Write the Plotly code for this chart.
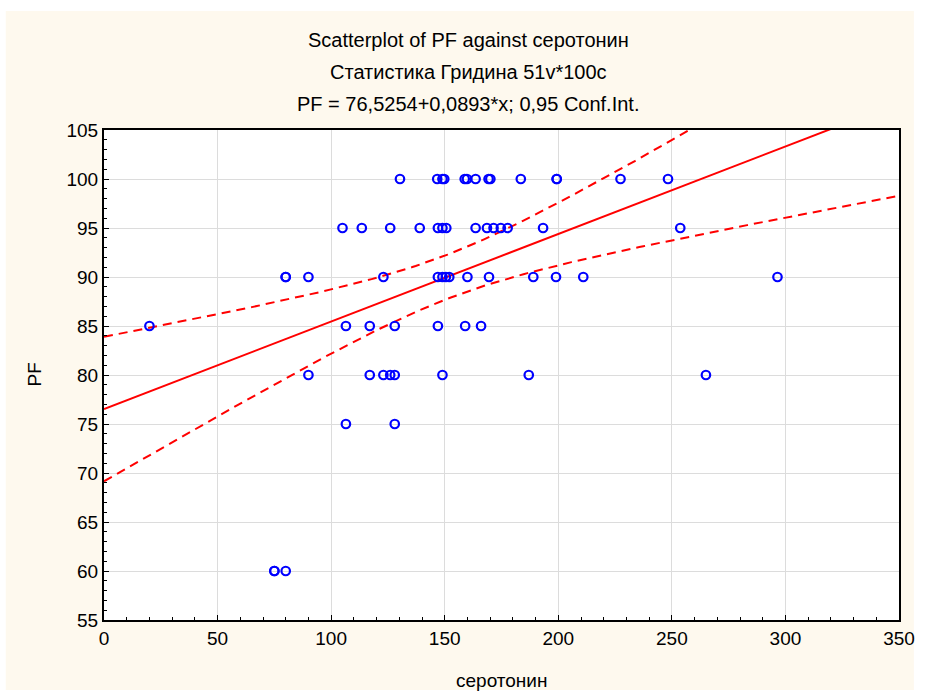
import numpy as np
import plotly.graph_objects as go

# ---- data ----
serotonin = [75, 75, 80,
             106.5, 128,
             90, 117, 123, 126, 128, 149, 187, 265,
             20, 106.5, 117, 128, 147, 159, 166,
             80, 80, 90, 123, 147, 149, 150.5, 152, 160, 169.5, 189, 199, 211, 296.5,
             105, 113.5, 126, 139, 147, 149, 150.7, 163.6, 168.6, 171.5, 174.7, 177.7, 193.3, 253.7,
             130.3, 146.7, 149, 149.8, 158.8, 159.8, 163.6, 169.3, 170.1, 183.5, 199.3, 199.3, 227.4, 248.3]
pf = [60, 60, 60,
      75, 75,
      80, 80, 80, 80, 80, 80, 80, 80,
      85, 85, 85, 85, 85, 85, 85,
      90, 90, 90, 90, 90, 90, 90, 90, 90, 90, 90, 90, 90, 90,
      95, 95, 95, 95, 95, 95, 95, 95, 95, 95, 95, 95, 95, 95,
      100, 100, 100, 100, 100, 100, 100, 100, 100, 100, 100, 100, 100, 100]
intercept = 76.5254
slope = 0.0893
conf_level = 0.95

x_ticks = [0, 50, 100, 150, 200, 250, 300, 350]
y_ticks = [55, 60, 65, 70, 75, 80, 85, 90, 95, 100, 105]

title_lines = ["Scatterplot of PF against серотонин",
               "Статистика Гридина 51v*100c",
               "PF = 76,5254+0,0893*x; 0,95 Conf.Int."]

# ---- regression line and confidence band ----
xs = np.array(serotonin, dtype=float)
ys = np.array(pf, dtype=float)
n = len(xs)
resid = ys - (intercept + slope * xs)
s2 = np.sum(resid ** 2) / (n - 2)
xbar = xs.mean()
sxx = np.sum((xs - xbar) ** 2)
t = 2.0  # ~ t(0.975, n-2)
grid = np.linspace(0, 350, 200)
fit = intercept + slope * grid
hw = t * np.sqrt(s2 * (1.0 / n + (grid - xbar) ** 2 / sxx))

fig = go.Figure()
fig.add_trace(go.Scatter(x=grid, y=fit + hw, mode="lines",
                         line=dict(color="#FF0000", width=2, dash="9px,6px"),
                         hoverinfo="skip", showlegend=False))
fig.add_trace(go.Scatter(x=grid, y=fit - hw, mode="lines",
                         line=dict(color="#FF0000", width=2, dash="9px,6px"),
                         hoverinfo="skip", showlegend=False))
fig.add_trace(go.Scatter(x=grid, y=fit, mode="lines",
                         line=dict(color="#FF0000", width=2),
                         hoverinfo="skip", showlegend=False))
fig.add_trace(go.Scatter(x=serotonin, y=pf, mode="markers",
                         marker=dict(symbol="circle-open", size=8.5, color="#0000FF",
                                     line=dict(width=2.2, color="#0000FF")),
                         showlegend=False))

W, H = 927, 695
L, R, T, B = 104, 22, 130, 75
pw, ph = W - L - R, H - T - B

def px(xp):
    return (xp - L) / pw

def py(yp):
    return (H - B - yp) / ph

shapes = [
    dict(type="rect", xref="paper", yref="paper", layer="below",
         x0=px(5), x1=px(920), y0=py(690), y1=py(11),
         fillcolor="#FEF9EE", line=dict(width=0)),
    dict(type="rect", xref="paper", yref="paper", layer="below",
         x0=0, x1=1, y0=0, y1=1, fillcolor="white", line=dict(width=0)),
]

annotations = []
for txt, yp in zip(title_lines, [40, 72, 104]):
    annotations.append(dict(text=txt, xref="paper", yref="paper",
                            x=px(471), y=py(yp), showarrow=False,
                            xanchor="center", yanchor="middle",
                            font=dict(size=20, color="black")))
annotations.append(dict(text="серотонин", xref="paper", yref="paper",
                        x=px(504), y=py(680), showarrow=False,
                        xanchor="center", yanchor="middle",
                        font=dict(size=19, color="black")))
annotations.append(dict(text="PF", xref="paper", yref="paper",
                        x=px(33), y=py(375), showarrow=False, textangle=-90,
                        xanchor="center", yanchor="middle",
                        font=dict(size=19, color="black")))

axis_common = dict(showline=True, linecolor="black", linewidth=2, mirror=True,
                   showgrid=True, gridcolor="#DCDCDC", gridwidth=1,
                   ticks="inside", ticklen=5, tickwidth=1, tickcolor="black",
                   zeroline=False, tickfont=dict(size=19, color="black"))

fig.update_layout(
    width=W, height=H,
    margin=dict(l=L, r=R, t=T, b=B),
    paper_bgcolor="white", plot_bgcolor="rgba(0,0,0,0)",
    font=dict(family="Liberation Sans, Arial, sans-serif", color="black"),
    xaxis=dict(range=[0, 350], tickvals=x_ticks,
               minor=dict(dtick=10, ticks="inside", ticklen=3, tickcolor="black", showgrid=False),
               **axis_common),
    yaxis=dict(range=[55, 105], tickvals=y_ticks,
               minor=dict(dtick=1, ticks="inside", ticklen=3, tickcolor="black", showgrid=False),
               **axis_common),
    shapes=shapes, annotations=annotations,
)
fig.write_html("out.html")
